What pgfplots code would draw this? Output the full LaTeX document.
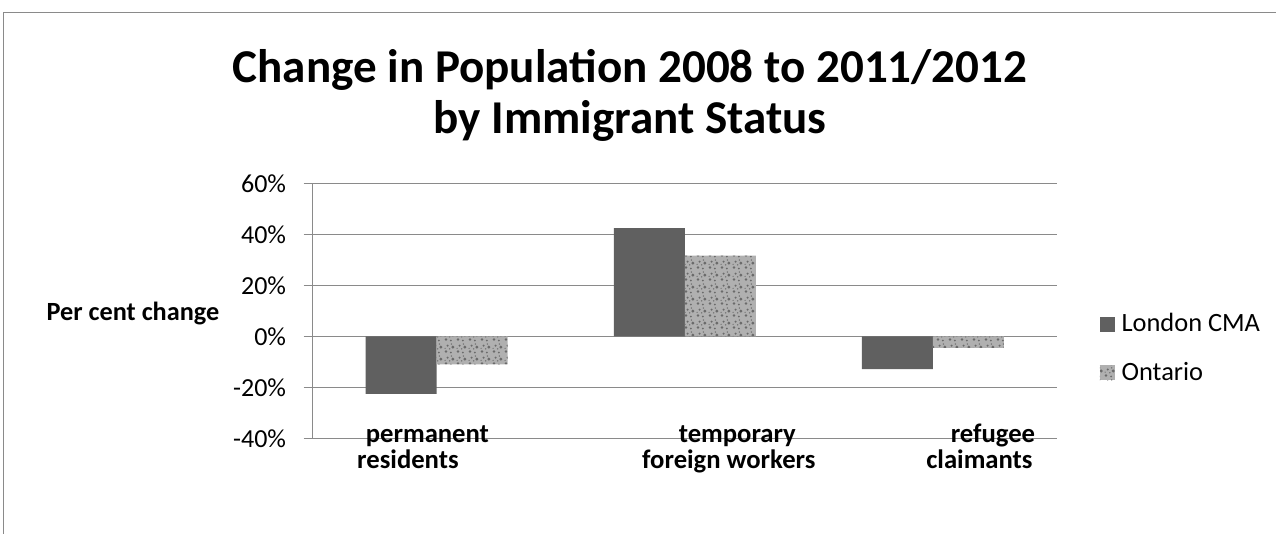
\documentclass[border=0pt]{standalone}
\usepackage{pgfplots}
\pgfplotsset{compat=1.18}
\usetikzlibrary{patterns}
\usepackage{fontspec}
\setmainfont{Carlito}
\definecolor{londongray}{HTML}{606060}
\definecolor{ontgray}{HTML}{B0B0B0}
\definecolor{ontdots}{HTML}{6A6A6A}
\definecolor{gridgray}{HTML}{8A8A8A}
\pgfdeclarepatternformonly{mottle}{\pgfpointorigin}{\pgfqpoint{9pt}{9pt}}{\pgfqpoint{9pt}{9pt}}{%
  \pgfpathcircle{\pgfqpoint{1.6pt}{2pt}}{1.1pt}%
  \pgfpathcircle{\pgfqpoint{5.6pt}{1.2pt}}{0.8pt}%
  \pgfpathcircle{\pgfqpoint{7.2pt}{5.6pt}}{1.3pt}%
  \pgfpathcircle{\pgfqpoint{2.9pt}{6.7pt}}{0.9pt}%
  \pgfpathcircle{\pgfqpoint{4.6pt}{4.1pt}}{0.6pt}%
  \pgfpathcircle{\pgfqpoint{0.9pt}{4.6pt}}{0.5pt}%
  \pgfpathcircle{\pgfqpoint{6.0pt}{8.0pt}}{0.6pt}%
  \pgfusepath{fill}}
\begin{document}
\begin{tikzpicture}
\draw[gridgray, line width=0.8pt] (2.5pt,0pt) -- (2.5pt,391pt) -- (957pt,391pt);
\begin{axis}[
  at={(234.5pt,71.8pt)}, anchor=south west,
  scale only axis, width=558.2pt, height=190.9pt,
  xmin=-0.5, xmax=2.5, ymin=-40, ymax=60,
  enlargelimits=false,
  ybar=0pt, bar width=53.25pt,
  axis lines*=left,
  axis line style={gridgray, line width=1.1pt},
  ymajorgrids, major grid style={gridgray, line width=1.1pt},
  ytick={-40,-20,0,20,40,60},
  yticklabels={-40\%,-20\%,0\%,20\%,40\%,60\%},
  ytick style={gridgray, line width=1.1pt},
  tick align=outside, major tick length=6.75pt,
  yticklabel style={font=\fontsize{19.5}{22}\selectfont, inner sep=0pt, xshift=-13pt},
  xtick={-0.1159,1.1775,2.1876},
  xticklabels={
    {\begin{tabular}[t]{@{}c@{}}\hspace*{29.2pt}permanent\\residents\end{tabular}},
    {\begin{tabular}[t]{@{}c@{}}\hspace*{12.75pt}temporary\\foreign workers\end{tabular}},
    {\begin{tabular}[t]{@{}c@{}}\hspace*{20.25pt}refugee\\claimants\end{tabular}}},
  xtick style={draw=none},
  xticklabel style={font=\fontsize{20}{17}\selectfont\bfseries, anchor=base, inner sep=0pt, yshift=3.2pt},
  ylabel={Per cent change},
  ylabel style={rotate=-90, font=\fontsize{19.7}{24}\selectfont\bfseries, at={(axis description cs:-0.2414,0.4619)}, anchor=base, inner sep=0pt},
  title={Change in Population 2008 to 2011/2012\\by Immigrant Status},
  title style={font=\fontsize{35.3}{38}\selectfont\bfseries, align=center, at={(axis description cs:0.4263,1.497)}, anchor=north, inner sep=0pt},
  legend image code/.code={\fill[#1] (0pt,0pt) rectangle (11.25pt,11.25pt);},
  legend style={at={(axis description cs:1.0578,0.4866)}, anchor=north west, draw=none, fill=none, inner sep=0pt, outer sep=0pt,
    row sep=23.2pt, column sep=5pt,
    nodes={inner sep=0pt, anchor=base west, text height=13pt, text depth=0pt, font=\fontsize{19.8}{24}\selectfont}},
  legend cell align=left,
]
\addplot[fill=londongray, draw=none] coordinates {(0,-22.6) (1,42.6) (2,-12.8)};
\addplot[fill=ontgray, draw=none, postaction={pattern=mottle, pattern color=ontdots}] coordinates {(0,-11.0) (1,31.8) (2,-4.5)};
\legend{London CMA, Ontario}
\end{axis}
\pgfresetboundingbox
\path[use as bounding box] (0pt,0pt) rectangle (957pt,400.5pt);
\end{tikzpicture}
\end{document}
